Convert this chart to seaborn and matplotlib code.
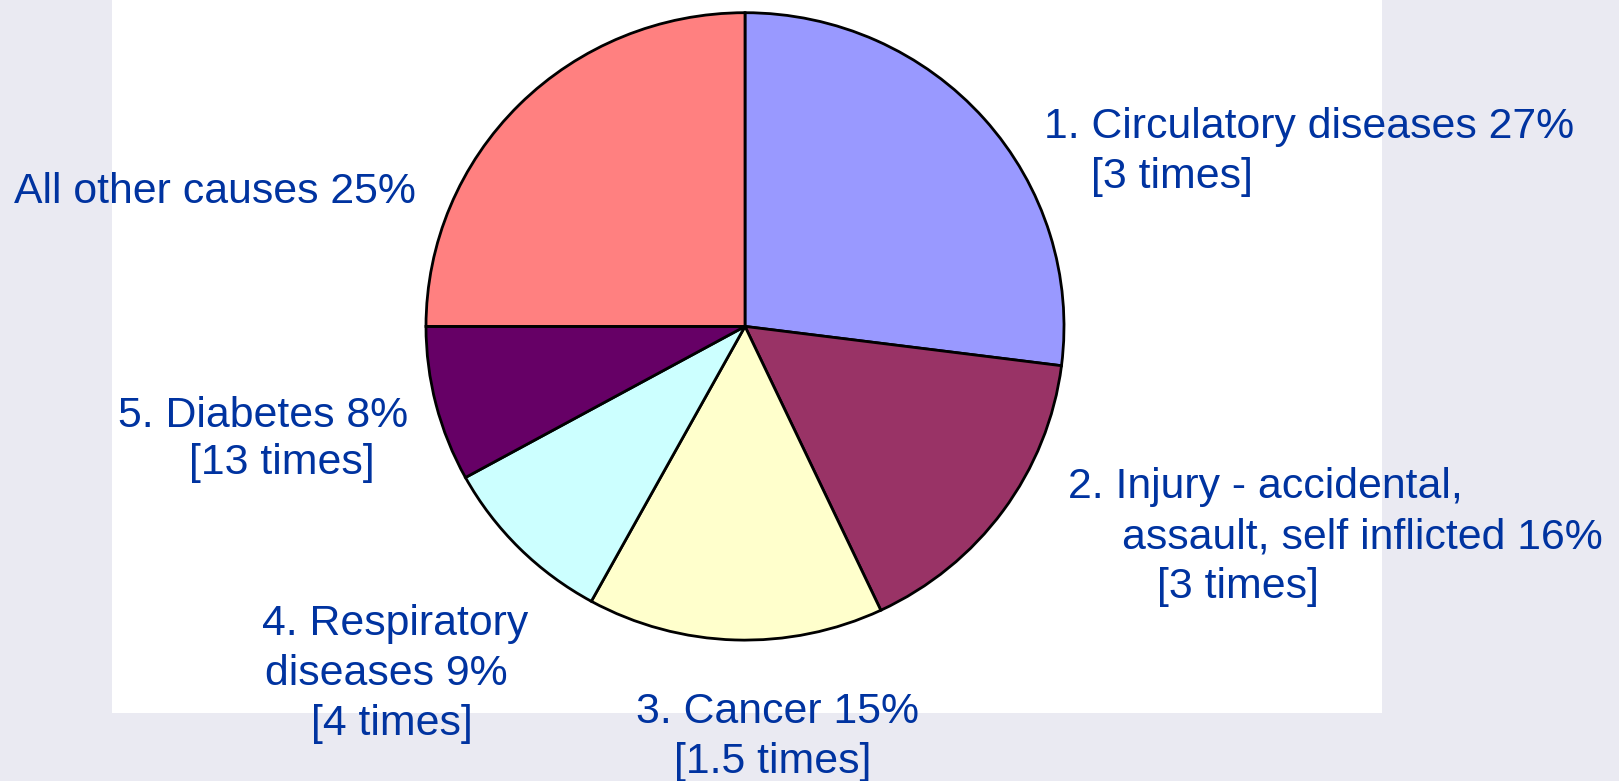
import matplotlib
matplotlib.use("Agg")
import matplotlib.pyplot as plt
import seaborn as sns

sns.set_theme(style="darkgrid")
plt.rcParams['font.family'] = ['Liberation Sans', 'DejaVu Sans']

# Data
causes = ["Circulatory diseases", "Injury - accidental, assault, self inflicted",
          "Cancer", "Respiratory diseases", "Diabetes", "All other causes"]
shares = [27, 16, 15, 9, 8, 25]
colors = ["#9999FF", "#993366", "#FFFFCC", "#CCFFFF", "#660066", "#FF8080"]
label_lines = [
    ["1. Circulatory diseases 27%", "[3 times]"],
    ["2. Injury - accidental,", "assault, self inflicted 16%", "[3 times]"],
    ["3. Cancer 15%", "[1.5 times]"],
    ["4. Respiratory", "diseases 9%", "[4 times]"],
    ["5. Diabetes 8%", "[13 times]"],
    ["All other causes 25%"],
]
# label line anchors (pixel x of left edge, pixel y of baseline)
label_pos = [
    [(1044, 138), (1091, 188)],
    [(1068, 498), (1122, 548), (1157, 598)],
    [(636, 723), (674, 773)],
    [(262, 635), (265, 685), (311, 735)],
    [(118, 427), (189, 474)],
    [(14, 203)],
]

W, H = 1619, 781
fig = plt.figure(figsize=(W / 100, H / 100), dpi=100)
fig.patch.set_facecolor("#EAEAF2")

ax_l, ax_r, ax_t, ax_b = 112, 1382, 0, 713
ax = fig.add_axes([ax_l / W, 1 - ax_b / H, (ax_r - ax_l) / W, (ax_b - ax_t) / H])

cx, cy, rx, ry = 745, 326.4, 319, 313.7
ax.pie(shares, colors=colors, startangle=90, counterclock=False,
       radius=1, center=(0, 0),
       wedgeprops=dict(edgecolor="black", linewidth=2))
ax.set_frame_on(True)
ax.set_facecolor("white")
ax.set_aspect("auto")
ax.set_xlim((ax_l - cx) / rx, (ax_r - cx) / rx)
ax.set_ylim(-(ax_b - cy) / ry, (cy - ax_t) / ry)
ax.set_xticks([])
ax.set_yticks([])
for s in ax.spines.values():
    s.set_visible(False)
ax.grid(False)

txt_color = "#0033A0"
for lines, poss in zip(label_lines, label_pos):
    for line, (px, py) in zip(lines, poss):
        fig.text(px / W, 1 - py / H, line, fontsize=30.8, color=txt_color,
                 ha="left", va="baseline")

fig.savefig("out.png", dpi=100, facecolor=fig.get_facecolor())
